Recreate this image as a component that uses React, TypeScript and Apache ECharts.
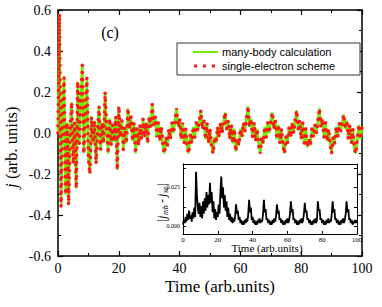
import React, { useEffect, useRef } from "react";
import * as echarts from "echarts";

const T_STEP = 0.5;

// many-body current j(t), sampled every 0.5 time units from t = 0 to 100
const manyBody: number[] = [
  0.0, 0.58, -0.36, 0.12, 0.27, -0.3, 0.05, -0.35, 0.02, 0.15,
  -0.15, 0.05, -0.27, 0.25, -0.05, 0.18, 0.33, -0.1, 0.1, 0.27,
  -0.12, -0.2, 0.08, -0.05, 0.06, -0.15, 0.0, 0.13, -0.08, 0.05,
  -0.05, 0.2, 0.02, -0.1, 0.07, -0.06, 0.04, -0.04, 0.08, -0.18,
  0.13, -0.02, 0.06, -0.08, 0.03, -0.05, 0.12, 0.02, 0.08, -0.04,
  0.05, -0.1, 0.02, -0.06, 0.04, -0.03, 0.07, -0.02, 0.05, -0.05,
  0.08, 0.03, 0.14, 0.04, 0.08, -0.02, 0.05, -0.04, 0.03, -0.06,
  -0.1, -0.02, -0.06, 0.02, -0.03, 0.05, 0.0, 0.06, 0.12, 0.03,
  0.07, -0.03, 0.05, -0.05, 0.02, -0.07, -0.1, -0.01, -0.05, 0.03,
  -0.02, 0.05, 0.01, 0.06, 0.11, 0.02, 0.06, -0.03, 0.05, -0.05,
  0.02, -0.06, -0.1, -0.02, -0.05, 0.03, -0.02, 0.05, 0.0, 0.06,
  0.1, 0.02, 0.06, -0.03, 0.04, -0.05, 0.02, -0.09, -0.03, -0.06,
  0.02, -0.02, 0.05, 0.01, 0.07, 0.13, 0.03, 0.07, -0.02, 0.05,
  -0.04, 0.02, -0.06, -0.1, -0.02, -0.05, 0.03, -0.02, 0.05, 0.0,
  0.06, 0.1, 0.02, 0.06, -0.03, 0.04, -0.05, 0.02, -0.06, -0.1,
  -0.02, -0.05, 0.03, -0.02, 0.05, 0.0, 0.06, 0.11, 0.02, 0.06,
  -0.03, 0.05, -0.05, 0.02, -0.07, -0.03, -0.06, 0.02, -0.02, 0.04,
  0.0, 0.06, 0.12, 0.03, 0.07, -0.02, 0.05, -0.04, 0.02, -0.05,
  -0.1, -0.02, -0.05, 0.03, -0.02, 0.05, 0.01, 0.05, 0.09, 0.02,
  0.06, -0.03, 0.04, -0.05, 0.02, -0.08, -0.1, -0.02, 0.04, -0.03,
  0.03,
];

// single-electron scheme (indistinguishable from the many-body curve at this scale)
const singleElectron: number[] = manyBody.slice();

// |j_mb - j_se|, sampled every 0.5 time units
const diff: number[] = [
  0.001, 0.004, 0.002, 0.006, 0.003, 0.008, 0.004, 0.01, 0.005, 0.007,
  0.003, 0.009, 0.005, 0.012, 0.006, 0.035, 0.02, 0.012, 0.008, 0.015,
  0.006, 0.013, 0.005, 0.016, 0.008, 0.018, 0.01, 0.022, 0.012, 0.02,
  0.014, 0.028, 0.015, 0.022, 0.009, 0.016, 0.005, 0.011, 0.004, 0.009,
  0.006, 0.014, 0.008, 0.022, 0.032, 0.018, 0.025, 0.012, 0.02, 0.01,
  0.016, 0.006, 0.012, 0.004, 0.008, 0.003, 0.006, 0.002, 0.005, 0.003,
  0.007, 0.014, 0.008, 0.01, 0.004, 0.006, 0.002, 0.004, 0.001, 0.003,
  0.001, 0.004, 0.002, 0.005, 0.003, 0.008, 0.017, 0.009, 0.012, 0.004,
  0.006, 0.002, 0.004, 0.001, 0.003, 0.001, 0.004, 0.002, 0.005, 0.002,
  0.004, 0.003, 0.008, 0.017, 0.009, 0.011, 0.004, 0.005, 0.002, 0.004,
  0.001, 0.003, 0.001, 0.004, 0.002, 0.005, 0.003, 0.007, 0.014, 0.008,
  0.01, 0.004, 0.005, 0.002, 0.004, 0.001, 0.003, 0.001, 0.004, 0.002,
  0.005, 0.002, 0.004, 0.008, 0.016, 0.009, 0.011, 0.004, 0.005, 0.002,
  0.004, 0.001, 0.003, 0.001, 0.004, 0.002, 0.005, 0.002, 0.004, 0.008,
  0.015, 0.009, 0.01, 0.004, 0.005, 0.002, 0.004, 0.001, 0.003, 0.001,
  0.004, 0.002, 0.005, 0.002, 0.004, 0.016, 0.01, 0.011, 0.004, 0.005,
  0.002, 0.004, 0.001, 0.003, 0.001, 0.004, 0.002, 0.005, 0.002, 0.004,
  0.003, 0.008, 0.016, 0.009, 0.011, 0.004, 0.005, 0.002, 0.004, 0.001,
  0.003, 0.001, 0.004, 0.002, 0.005, 0.002, 0.004, 0.008, 0.016, 0.009,
  0.011, 0.004, 0.005, 0.002, 0.004, 0.001, 0.003, 0.002, 0.004, 0.002,
  0.004,
];

const legendNames = ["many-body calculation", "single-electron scheme"];
const mainYTicks = [-0.6, -0.4, -0.2, 0.0, 0.2, 0.4, 0.6];
const insetYLabels = [0, 0.025];
const insetYTicks = [0, 0.0125, 0.025, 0.0375];

const SERIF = "Liberation Serif";
const SANS = "Liberation Sans";
const GREEN = "#70f000";
const RED = "#ff1a1a";

const toPairs = (arr: number[]) => arr.map((v, i) => [i * T_STEP, v]);

const axisBase = (extra: any) => ({
  type: "value",
  splitLine: { show: false },
  axisLine: { show: true, onZero: false, lineStyle: { color: "#000", width: 1.5 } },
  ...extra,
});

const serifText = (size: number, italic = false) => ({
  fontFamily: SERIF,
  fontSize: size,
  fontStyle: italic ? "italic" : "normal",
  fill: "#000",
});

const run = (text: string, x: number, y: number, size: number, italic = false) => ({
  type: "text",
  x,
  y,
  style: { text, ...serifText(size, italic), align: "left", verticalAlign: "middle" },
});

export default function App() {
  const ref = useRef<HTMLDivElement>(null);
  useEffect(() => {
    if (!ref.current) return;
    const chart = echarts.init(ref.current, undefined, { renderer: "svg" });
    const mainTick = { show: true, inside: true, length: 5, lineStyle: { color: "#000", width: 1.2 } };
    const mainMinor = { show: true, splitNumber: 2, length: 3, lineStyle: { color: "#000", width: 1 } };
    const insetTick = { show: true, inside: true, length: 3, lineStyle: { color: "#000", width: 1 } };
    const option: any = {
      animation: false,
      backgroundColor: "#fff",
      textStyle: { fontFamily: SERIF },
      grid: [
        { left: 58, top: 10, width: 304, height: 246 },
        { left: 183, top: 164, width: 174, height: 70 },
      ],
      xAxis: [
        axisBase({
          gridIndex: 0, min: 0, max: 100, interval: 20, position: "bottom",
          axisTick: mainTick, minorTick: mainMinor,
          axisLabel: { color: "#000", fontFamily: SERIF, fontSize: 14, margin: 5 },
        }),
        axisBase({
          gridIndex: 0, min: 0, max: 100, interval: 20, position: "top",
          axisTick: mainTick, minorTick: mainMinor, axisLabel: { show: false },
        }),
        axisBase({
          gridIndex: 1, min: 0, max: 100, interval: 20, position: "bottom",
          axisLine: { show: true, onZero: false, lineStyle: { color: "#000", width: 1 } },
          axisTick: insetTick,
          axisLabel: { color: "#000", fontFamily: SERIF, fontSize: 7, margin: 2 },
        }),
        axisBase({
          gridIndex: 1, min: 0, max: 100, interval: 20, position: "top",
          axisLine: { show: true, onZero: false, lineStyle: { color: "#000", width: 1 } },
          axisTick: { show: false }, axisLabel: { show: false },
        }),
      ],
      yAxis: [
        axisBase({
          gridIndex: 0, min: -0.6, max: 0.6, position: "left",
          axisTick: { ...mainTick, customValues: mainYTicks }, minorTick: mainMinor,
          interval: 0.2,
          axisLabel: {
            color: "#000", fontFamily: SERIF, fontSize: 14, margin: 7,
            formatter: (v: number) => v.toFixed(1),
          },
        }),
        axisBase({
          gridIndex: 0, min: -0.6, max: 0.6, interval: 0.2, position: "right",
          axisTick: mainTick, minorTick: mainMinor, axisLabel: { show: false },
        }),
        axisBase({
          gridIndex: 1, min: -0.005, max: 0.04, position: "left",
          axisLine: { show: true, onZero: false, lineStyle: { color: "#000", width: 1 } },
          axisTick: { ...insetTick, customValues: insetYTicks },
          axisLabel: {
            color: "#000", fontFamily: SERIF, fontSize: 6, margin: 3,
            customValues: insetYLabels,
            formatter: (v: number) => v.toFixed(3),
          },
        }),
        axisBase({
          gridIndex: 1, min: -0.005, max: 0.04, position: "right",
          axisLine: { show: true, onZero: false, lineStyle: { color: "#000", width: 1 } },
          axisTick: { ...insetTick, customValues: insetYTicks },
          axisLabel: { show: false },
        }),
      ],
      series: [
        {
          name: legendNames[0],
          type: "line",
          xAxisIndex: 0, yAxisIndex: 0,
          data: toPairs(manyBody),
          symbol: "none",
          lineStyle: { color: GREEN, width: 2.5 },
          z: 2,
        },
        {
          name: legendNames[1],
          type: "line",
          xAxisIndex: 0, yAxisIndex: 0,
          data: toPairs(singleElectron),
          symbol: "none",
          lineStyle: { color: RED, width: 3.6, type: [0.1, 7], cap: "round" },
          z: 3,
        },
        {
          name: "diff",
          type: "line",
          xAxisIndex: 2, yAxisIndex: 2,
          data: toPairs(diff),
          symbol: "none",
          lineStyle: { color: "#000", width: 1.8 },
          z: 3,
        },
      ],
      graphic: [
        {
          type: "rect", z: 1,
          shape: { x: 177, y: 43, width: 183, height: 32 },
          style: { fill: "#fff", stroke: "#333", lineWidth: 1 },
        },
        {
          type: "line", z: 5,
          shape: { x1: 193, y1: 52, x2: 218, y2: 52 },
          style: { stroke: GREEN, lineWidth: 2 },
        },
        {
          type: "line", z: 5,
          shape: { x1: 194, y1: 66, x2: 219, y2: 66 },
          style: { stroke: RED, lineWidth: 3, lineDash: [3, 6] },
        },
        {
          type: "text", z: 5, x: 222, y: 52,
          style: {
            text: legendNames[0], fontFamily: SANS, fontSize: 11, fill: "#000",
            align: "left", verticalAlign: "middle",
          },
        },
        {
          type: "text", z: 5, x: 222, y: 66,
          style: {
            text: legendNames[1], fontFamily: SANS, fontSize: 11, fill: "#000",
            align: "left", verticalAlign: "middle",
          },
        },
        {
          type: "text", x: 110, y: 32,
          style: { text: "(c)", ...serifText(16), align: "center", verticalAlign: "middle" },
        },
        {
          type: "text", x: 220, y: 286,
          style: { text: "Time (arb.units)", ...serifText(17), align: "center", verticalAlign: "middle" },
        },
        {
          type: "group", x: 11, y: 188, rotation: Math.PI / 2,
          children: [run("j", 0, 0, 17, true), run("(arb. units)", 9, 0, 16.5)],
        },
        {
          type: "text", x: 267, y: 248,
          style: { text: "Time (arb.units)", ...serifText(11), align: "center", verticalAlign: "middle" },
        },
        {
          type: "group", x: 162, y: 222, rotation: Math.PI / 2,
          children: [
            run("|", 0, 0, 12),
            run("j", 3, 0, 12, true),
            run("mb", 7, 3, 8, true),
            run("-", 19, 0, 12),
            run("j", 25, 0, 12, true),
            run("se", 29, 3, 8, true),
            run("|", 36, 0, 12),
          ],
        },
      ],
    };
    chart.setOption(option);
    return () => chart.dispose();
  }, []);
  return <div ref={ref} style={{ width: 382, height: 307, position: "absolute", left: 0, top: 0 }} />;
}
